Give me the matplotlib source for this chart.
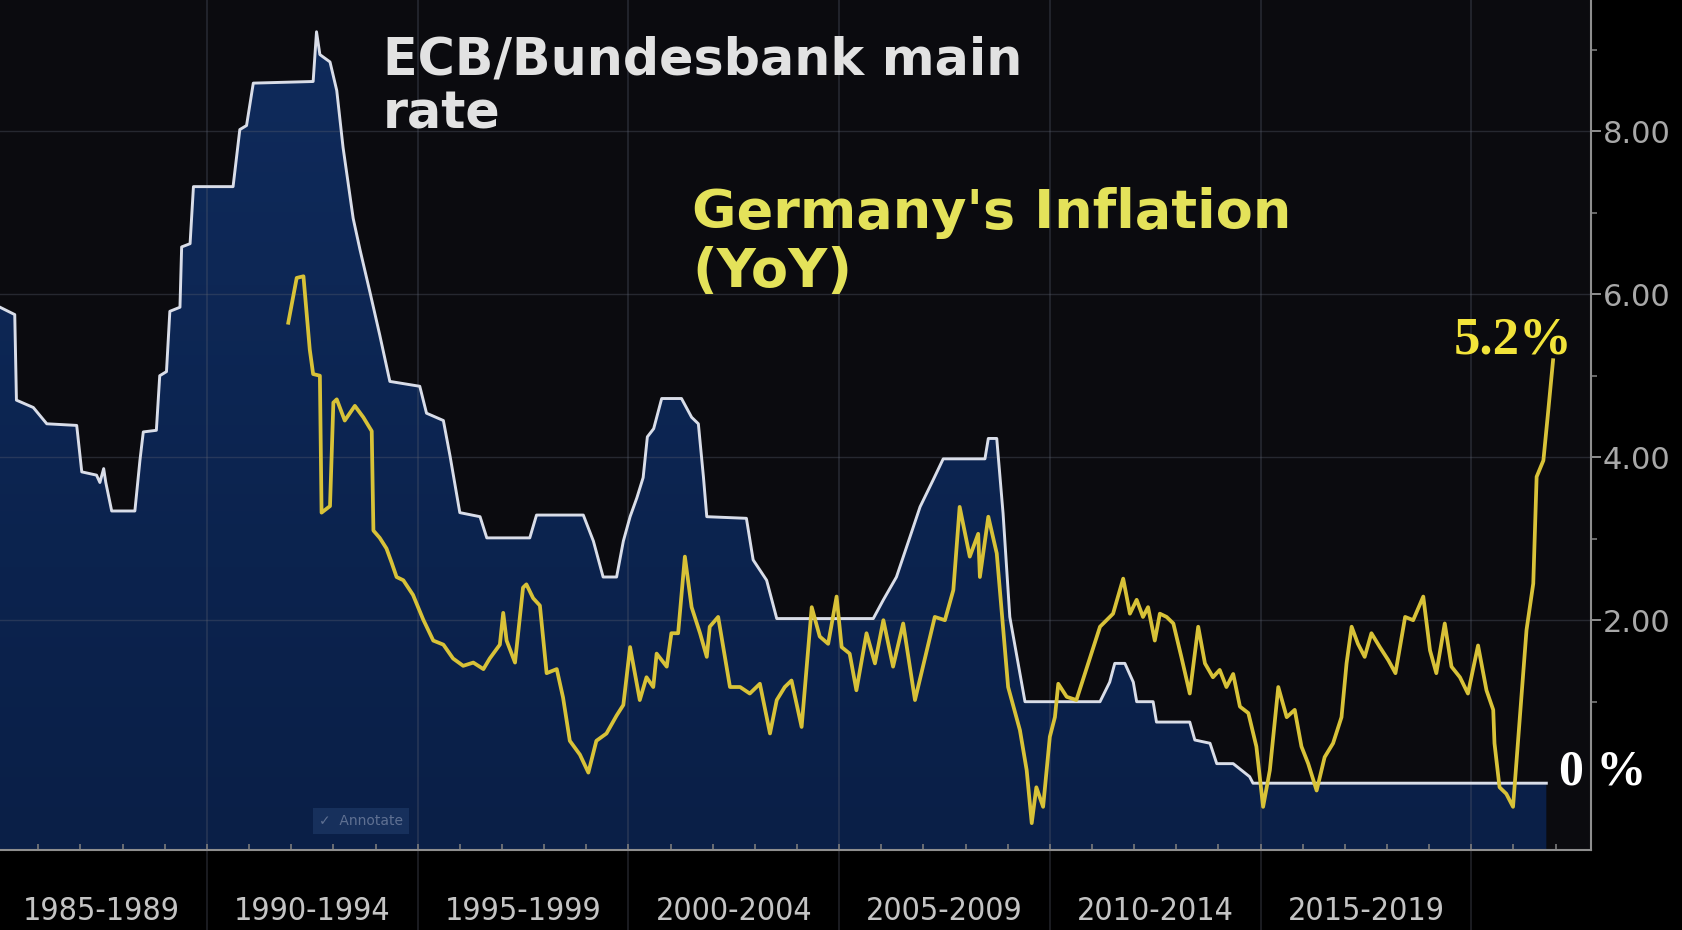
import numpy as np
import matplotlib
matplotlib.use("Agg")
import matplotlib.pyplot as plt
from matplotlib.colors import LinearSegmentedColormap

# ECB / Bundesbank main rate
rate_years = [1985.09, 1985.44, 1985.48, 1985.88, 1986.2, 1986.91, 1987.03, 1987.38, 1987.46,
              1987.55, 1987.6, 1987.74, 1988.29, 1988.41, 1988.49, 1988.8, 1988.88, 1989.04,
              1989.12, 1989.36, 1989.4, 1989.6, 1989.68, 1990.62, 1990.78, 1990.94, 1991.1,
              1992.52, 1992.6, 1992.68, 1992.92, 1993.08, 1993.23, 1993.47, 1993.63, 1993.87,
              1994.1, 1994.34, 1995.05, 1995.21, 1995.61, 1995.77, 1996.0, 1996.48, 1996.64,
              1997.66, 1997.82, 1998.93, 1999.17, 1999.4, 1999.72, 1999.88, 2000.04, 2000.2,
              2000.35, 2000.45, 2000.6, 2000.79, 2001.26, 2001.5, 2001.66, 2001.78, 2001.86,
              2002.8, 2002.96, 2003.28, 2003.52, 2005.81, 2006.05, 2006.36, 2006.68, 2006.92,
              2007.23, 2007.47, 2008.46, 2008.54, 2008.74, 2008.89, 2009.05, 2009.41, 2011.19,
              2011.42, 2011.54, 2011.78, 2011.98, 2012.06, 2012.45, 2012.53, 2013.32, 2013.44,
              2013.8, 2013.96, 2014.35, 2014.74, 2014.82, 2021.78]
rate_vals = [5.84, 5.75, 4.7, 4.61, 4.41, 4.39, 3.82, 3.78, 3.69,
             3.86, 3.69, 3.34, 3.34, 3.96, 4.31, 4.33, 5.0, 5.05,
             5.79, 5.84, 6.58, 6.62, 7.32, 7.32, 8.02, 8.07, 8.59,
             8.61, 9.22, 8.94, 8.85, 8.5, 7.8, 6.93, 6.55, 6.02,
             5.5, 4.93, 4.87, 4.54, 4.45, 4.01, 3.32, 3.27, 3.01,
             3.01, 3.29, 3.29, 2.97, 2.53, 2.53, 2.97, 3.27, 3.5,
             3.75, 4.25, 4.35, 4.72, 4.72, 4.49, 4.41, 3.76, 3.27,
             3.25, 2.74, 2.49, 2.02, 2.02, 2.25, 2.53, 3.02, 3.39,
             3.72, 3.98, 3.98, 4.23, 4.23, 3.31, 2.04, 1.0, 1.0,
             1.24, 1.47, 1.47, 1.24, 1.0, 1.0, 0.75, 0.75, 0.53,
             0.49, 0.24, 0.24, 0.08, 0.0, 0.0]

# Germany inflation YoY
cpi_years = [1991.93, 1992.13, 1992.29, 1992.44, 1992.52, 1992.68, 1992.72, 1992.92, 1993.0,
             1993.08, 1993.27, 1993.51, 1993.71, 1993.91, 1993.95, 1994.1, 1994.26, 1994.38,
             1994.5, 1994.66, 1994.89, 1995.13, 1995.37, 1995.61, 1995.84, 1996.08, 1996.32,
             1996.56, 1996.71, 1996.95, 1997.03, 1997.11, 1997.31, 1997.5, 1997.58, 1997.74,
             1997.9, 1998.06, 1998.3, 1998.45, 1998.61, 1998.85, 1999.05, 1999.24, 1999.48,
             1999.72, 1999.88, 2000.04, 2000.27, 2000.43, 2000.59, 2000.67, 2000.91, 2001.02,
             2001.18, 2001.34, 2001.5, 2001.7, 2001.86, 2001.93, 2002.13, 2002.25, 2002.41,
             2002.65, 2002.88, 2003.12, 2003.36, 2003.52, 2003.71, 2003.87, 2004.11, 2004.35,
             2004.54, 2004.74, 2004.94, 2005.06, 2005.25, 2005.41, 2005.65, 2005.85, 2006.05,
             2006.28, 2006.52, 2006.8, 2006.99, 2007.27, 2007.51, 2007.71, 2007.86, 2008.1,
             2008.3, 2008.34, 2008.54, 2008.74, 2009.01, 2009.29, 2009.45, 2009.57, 2009.68,
             2009.84, 2010.0, 2010.12, 2010.2, 2010.4, 2010.63, 2010.91, 2011.19, 2011.5,
             2011.74, 2011.9, 2012.06, 2012.21, 2012.33, 2012.49, 2012.61, 2012.77, 2012.93,
             2013.12, 2013.32, 2013.52, 2013.68, 2013.87, 2014.03, 2014.19, 2014.35, 2014.51,
             2014.71, 2014.9, 2015.06, 2015.22, 2015.42, 2015.62, 2015.81, 2015.97, 2016.13,
             2016.33, 2016.52, 2016.72, 2016.92, 2017.04, 2017.16, 2017.31, 2017.47, 2017.63,
             2017.83, 2018.03, 2018.2, 2018.43, 2018.62, 2018.86, 2019.02, 2019.17, 2019.37,
             2019.53, 2019.73, 2019.92, 2020.16, 2020.36, 2020.52, 2020.55, 2020.67, 2020.83,
             2020.99, 2021.31, 2021.47, 2021.55, 2021.71, 2021.82, 2021.94]
cpi_vals = [5.65, 6.2, 6.22, 5.32, 5.02, 5.0, 3.32, 3.4, 4.67,
            4.71, 4.45, 4.63, 4.49, 4.32, 3.1, 3.01, 2.88, 2.71,
            2.53, 2.49, 2.31, 2.01, 1.75, 1.7, 1.53, 1.44, 1.48,
            1.4, 1.53, 1.7, 2.09, 1.75, 1.48, 2.4, 2.44, 2.27,
            2.18, 1.35, 1.4, 1.05, 0.52, 0.35, 0.13, 0.52, 0.61,
            0.83, 0.96, 1.67, 1.02, 1.3, 1.18, 1.59, 1.43, 1.84,
            1.84, 2.78, 2.16, 1.84, 1.55, 1.92, 2.04, 1.67, 1.18,
            1.18, 1.1, 1.22, 0.61, 1.02, 1.18, 1.26, 0.69, 2.16,
            1.8, 1.71, 2.29, 1.67, 1.59, 1.14, 1.84, 1.47, 2.0,
            1.43, 1.96, 1.02, 1.43, 2.04, 2.0, 2.37, 3.39, 2.78,
            3.06, 2.53, 3.27, 2.82, 1.18, 0.65, 0.16, -0.49, -0.05,
            -0.29, 0.57, 0.81, 1.22, 1.06, 1.02, 1.47, 1.92, 2.08,
            2.51, 2.08, 2.25, 2.04, 2.16, 1.75, 2.08, 2.04, 1.96,
            1.55, 1.1, 1.92, 1.47, 1.3, 1.39, 1.18, 1.34, 0.94,
            0.86, 0.45, -0.29, 0.16, 1.18, 0.81, 0.9, 0.45, 0.24,
            -0.09, 0.32, 0.49, 0.81, 1.47, 1.92, 1.71, 1.55, 1.84,
            1.67, 1.51, 1.35, 2.04, 2.0, 2.29, 1.63, 1.35, 1.96,
            1.43, 1.3, 1.1, 1.69, 1.14, 0.9, 0.49, -0.05, -0.13,
            -0.29, 1.88, 2.45, 3.76, 3.96, 4.54, 5.19]

period_bounds = [1990, 1995, 2000, 2005, 2010, 2015, 2020]
period_mids = [1987.5, 1992.5, 1997.5, 2002.5, 2007.5, 2012.5, 2017.5]
period_labels = ['1985-1989', '1990-1994', '1995-1999', '2000-2004',
                 '2005-2009', '2010-2014', '2015-2019']
ytick_vals = [2, 4, 6, 8]
ytick_labels = ['2.00', '4.00', '6.00', '8.00']

x_lo, x_hi = 1985.09, 2022.84
y_lo, y_hi = -0.82, 9.61

fig = plt.figure(figsize=(16.82, 9.30), dpi=100, facecolor='black')
ax = fig.add_axes([0.0, 0.086, 0.9459, 0.914])
ax.set_facecolor('#0b0b0f')

# navy area under the rate, slightly lighter towards the top
poly = ax.fill_between(rate_years, rate_vals, y_lo, facecolor='none', lw=0)
grad = np.linspace(0, 1, 256).reshape(-1, 1)
cmap = LinearSegmentedColormap.from_list('navy', ['#0a1f47', '#0f2b5c'])
img = ax.imshow(grad, extent=[x_lo, x_hi, y_lo, y_hi], origin='lower',
                aspect='auto', cmap=cmap, zorder=1)
img.set_clip_path(poly.get_paths()[0], ax.transData)

for yv in ytick_vals:
    ax.axhline(yv, color='#5a6070', lw=1.0, alpha=0.35, zorder=1.5)
for xv in period_bounds:
    ax.axvline(xv, ymin=-0.1, ymax=1, color='#5a6070', lw=1.2, alpha=0.35,
               zorder=1.5, clip_on=False)

ax.plot(rate_years, rate_vals, color='#d9dde8', lw=2.1, zorder=3)
ax.plot(cpi_years, cpi_vals, color='#d8c238', lw=2.7, zorder=4)

ax.set_xlim(x_lo, x_hi)
ax.set_ylim(y_lo, y_hi)

for s in ['top', 'left']:
    ax.spines[s].set_visible(False)
for s in ['bottom', 'right']:
    ax.spines[s].set_color('#8e8e8e')
    ax.spines[s].set_linewidth(1.5)

ax.yaxis.tick_right()
ax.set_yticks(ytick_vals, ytick_labels)
ax.set_yticks([1, 3, 5, 7, 9], minor=True)
ax.tick_params(axis='y', which='major', direction='out', length=7, width=1.3,
               color='#9a9a9a', labelcolor='#a8a8a8', labelsize=22, pad=1.5)
ax.tick_params(axis='y', which='minor', direction='out', length=4, width=1.2, color='#7a7a7a')

ax.set_xticks(period_mids, period_labels, fontstretch='condensed')
ax.set_xticks(list(range(1986, 2023)), minor=True)
ax.tick_params(axis='x', which='major', length=0, labelsize=23, labelcolor='#c4c4c4', pad=33)
ax.tick_params(axis='x', which='minor', direction='in', length=4, width=1.2, color='#7a7a7a')

fig.text(0.2277, 0.9194, 'ECB/Bundesbank main', color='#e2e2e2', fontsize=36.5,
         fontweight='bold', va='baseline', ha='left')
fig.text(0.2277, 0.8613, 'rate', color='#e2e2e2', fontsize=36.5,
         fontweight='bold', va='baseline', ha='left')
fig.text(0.4114, 0.7548, "Germany's Inflation", color='#e4e25a', fontsize=39,
         fontweight='bold', va='baseline', ha='left')
fig.text(0.4114, 0.6909, '(YoY)', color='#e4e25a', fontsize=39,
         fontweight='bold', va='baseline', ha='left')

fig.text(0.8995, 0.6194, '5.2%', color='#f2e33a', fontsize=38, fontweight='bold',
         family='Liberation Serif', ha='center', va='baseline')
fig.text(0.9269, 0.156, '0 %', color='white', fontsize=36, fontweight='bold',
         family='Liberation Serif', ha='left', va='baseline')

fig.text(0.2146, 0.1172, '\u2713  Annotate', color='#5f7092', fontsize=10,
         ha='center', va='center',
         bbox=dict(boxstyle='square,pad=0.45', facecolor='#17305c', edgecolor='none'))

fig.savefig('out.png', dpi=100, facecolor='black')
